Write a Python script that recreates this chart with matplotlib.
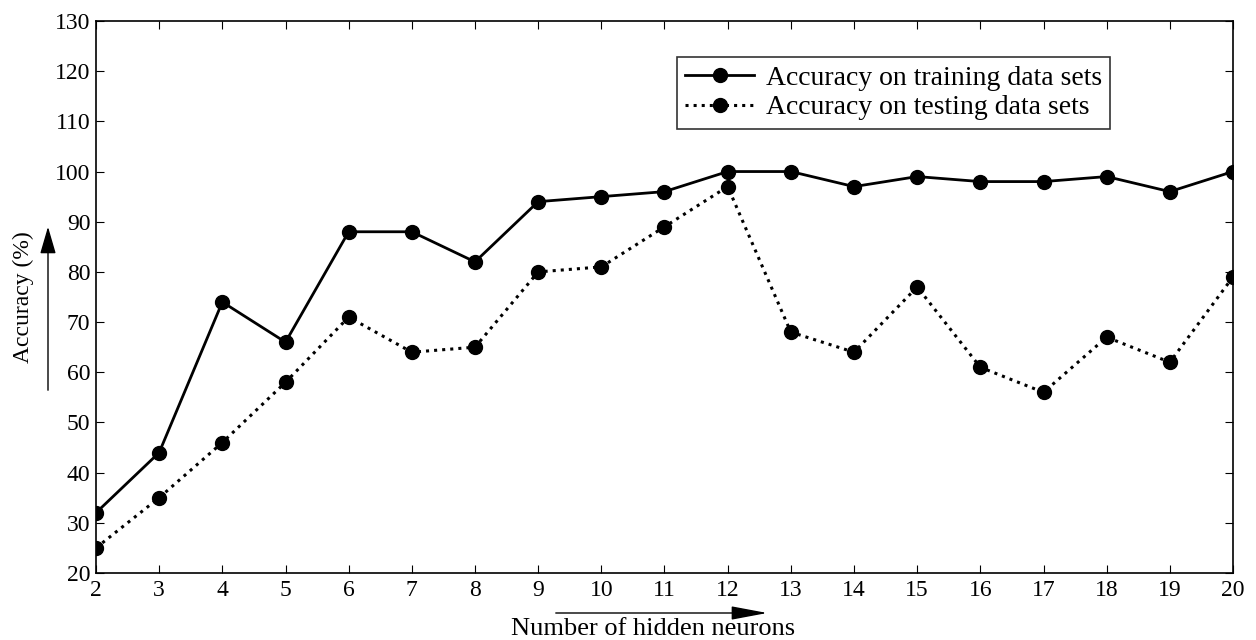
import matplotlib
matplotlib.use("Agg")
import matplotlib.pyplot as plt
from matplotlib.patches import FancyArrowPatch

neurons = list(range(2, 21))
train_acc = [32, 44, 74, 66, 88, 88, 82, 94, 95, 96, 100, 100, 97, 99, 98, 98, 99, 96, 100]
test_acc = [25, 35, 46, 58, 71, 64, 65, 80, 81, 89, 97, 68, 64, 77, 61, 56, 67, 62, 79]
yticks = list(range(20, 131, 10))

plt.rcParams['font.family'] = ['Liberation Serif', 'DejaVu Serif']

W, H = 1256, 640
fig = plt.figure(figsize=(W/100, H/100), dpi=100)
L, R, T, B = 96, 1233, 21, 573
ax = fig.add_axes([L/W, (H-B)/H, (R-L)/W, (B-T)/H])

ax.plot(neurons, train_acc, '-', color='black', lw=2.0, marker='o', ms=10,
        label='Accuracy on training data sets')
ax.plot(neurons, test_acc, ':', color='black', lw=2.2, marker='o', ms=10,
        label='Accuracy on testing data sets')

ax.set_xlim(2, 20)
ax.set_ylim(20, 130)
ax.set_xticks(neurons)
ax.set_yticks(yticks)
ax.tick_params(direction='in', top=True, right=True, labelsize=17, length=6, width=0.8)
ax.tick_params(axis='x', pad=5)
ax.tick_params(axis='y', pad=4)
for s in ax.spines.values():
    s.set_linewidth(1.2)

leg = ax.legend(loc='upper right', bbox_to_anchor=((1110-L)/(R-L), (B-57)/(B-T)), fontsize=20,
                frameon=True, fancybox=False, edgecolor='black', handlelength=2.5,
                borderpad=0.3, labelspacing=0.15, handletextpad=0.4, borderaxespad=0)
leg.get_frame().set_linewidth(1.2)

fig.text(23/W, (H-297)/H, 'Accuracy (%)', rotation=90, ha='center', va='center', fontsize=17)
fig.text(653/W, (H-629)/H, 'Number of hidden neurons', ha='center', va='center', fontsize=19)

fig.add_artist(FancyArrowPatch((48/W, (H-393)/H), (48/W, (H-224)/H),
               transform=fig.transFigure, arrowstyle='-|>,head_length=1.2,head_width=0.35',
               mutation_scale=14, color='black', lw=1.0))
fig.add_artist(FancyArrowPatch((553/W, (H-613)/H), (770/W, (H-613)/H),
               transform=fig.transFigure, arrowstyle='-|>,head_length=1.6,head_width=0.3',
               mutation_scale=14, color='black', lw=1.0))

fig.savefig('out.png', dpi=100)
